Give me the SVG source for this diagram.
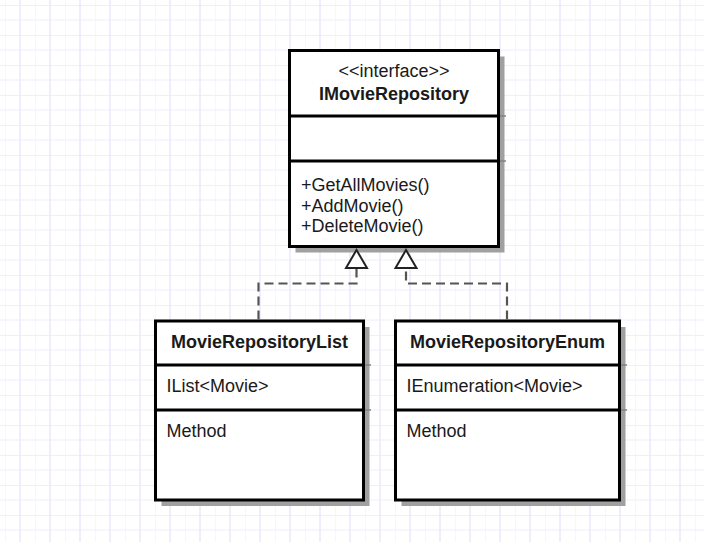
<svg xmlns="http://www.w3.org/2000/svg" width="704" height="542" viewBox="0 0 704 542">
  <defs>
    <pattern id="grid" x="5" y="5" width="30" height="30" patternUnits="userSpaceOnUse">
      <line x1="0" y1="0" x2="30" y2="0" stroke="#e9e9fb" stroke-width="1.5"/>
      <line x1="0" y1="15" x2="30" y2="15" stroke="#f3f3fd" stroke-width="1.5"/>
      <line x1="0" y1="0" x2="0" y2="30" stroke="#f3f3fd" stroke-width="1.5"/>
      <line x1="15" y1="0" x2="15" y2="30" stroke="#e9e9fb" stroke-width="1.5"/>
    </pattern>
  </defs>
  <style>
    .box { fill: #ffffff; stroke: #000000; stroke-width: 3; }
    .sep { stroke: #000000; stroke-width: 3; }
    .shadow { fill: #a0a0a0; }
    .shsep { stroke: #808080; stroke-width: 1.5; }
    .t { font-family: "Liberation Sans", Arial, sans-serif; font-size: 18px; fill: #1a1a1a; }
    .c { text-anchor: middle; }
    .b { font-weight: bold; }
    .conn { fill: none; stroke: #555555; stroke-width: 2.2; stroke-dasharray: 9 5; }
    .tri { fill: #ffffff; stroke: #222222; stroke-width: 2; stroke-linejoin: miter; }
  </style>
  <rect x="0" y="0" width="704" height="542" fill="#ffffff"/>
  <rect x="0" y="0" width="704" height="542" fill="url(#grid)"/>

  <g id="IMovieRepository">
    <rect class="shadow" x="295.5" y="56.5" width="209" height="196"/>
    <line class="shsep" x1="500" y1="116" x2="506" y2="116"/>
    <line class="shsep" x1="500" y1="161" x2="506" y2="161"/>
    <rect class="box" x="289.5" y="50.5" width="209" height="196"/>
    <line class="sep" x1="289.5" y1="116" x2="498.5" y2="116"/>
    <line class="sep" x1="289.5" y1="161" x2="498.5" y2="161"/>
    <text class="t c" x="394" y="77">&lt;&lt;interface&gt;&gt;</text>
    <text class="t c b" x="394" y="100">IMovieRepository</text>
    <text class="t" x="301" y="191">+GetAllMovies()</text>
    <text class="t" x="301" y="211.5">+AddMovie()</text>
    <text class="t" x="301" y="232">+DeleteMovie()</text>
  </g>

  <g id="MovieRepositoryList">
    <rect class="shadow" x="161.5" y="327" width="208" height="179"/>
    <line class="shsep" x1="365" y1="365" x2="371" y2="365"/>
    <line class="shsep" x1="365" y1="410" x2="371" y2="410"/>
    <rect class="box" x="155.5" y="321" width="208" height="179"/>
    <line class="sep" x1="155.5" y1="365" x2="363.5" y2="365"/>
    <line class="sep" x1="155.5" y1="410" x2="363.5" y2="410"/>
    <text class="t c b" x="259.5" y="348">MovieRepositoryList</text>
    <text class="t" x="166.5" y="392">IList&lt;Movie&gt;</text>
    <text class="t" x="166.5" y="437">Method</text>
  </g>

  <g id="MovieRepositoryEnum">
    <rect class="shadow" x="401.5" y="327" width="224" height="179"/>
    <line class="shsep" x1="621" y1="365" x2="627" y2="365"/>
    <line class="shsep" x1="621" y1="410" x2="627" y2="410"/>
    <rect class="box" x="395.5" y="321" width="224" height="179"/>
    <line class="sep" x1="395.5" y1="365" x2="619.5" y2="365"/>
    <line class="sep" x1="395.5" y1="410" x2="619.5" y2="410"/>
    <text class="t c b" x="507.5" y="348">MovieRepositoryEnum</text>
    <text class="t" x="406.5" y="392">IEnumeration&lt;Movie&gt;</text>
    <text class="t" x="406.5" y="437">Method</text>
  </g>

  <g id="connectors">
    <path class="conn" d="M258.5,319.5 V283.5 H356.5 V268"/>
    <path class="conn" d="M507,319.5 V283.5 H406 V268"/>
    <polygon class="tri" points="356.5,250 346,268 367,268"/>
    <polygon class="tri" points="406,250 395.5,268 416.5,268"/>
  </g>
</svg>
